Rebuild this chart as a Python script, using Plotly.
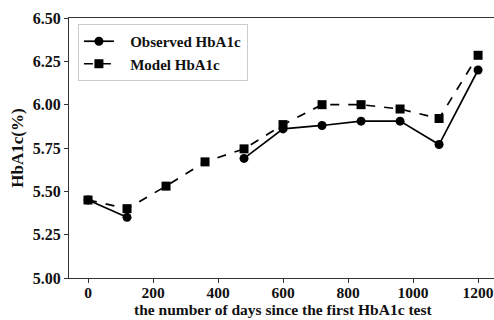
import plotly.graph_objects as go

days = [0, 120, 240, 360, 480, 600, 720, 840, 960, 1080, 1200]
observed = [5.45, 5.35, None, None, 5.69, 5.86, 5.88, 5.905, 5.905, 5.77, 6.20]
model = [5.45, 5.40, 5.53, 5.67, 5.745, 5.885, 6.00, 6.00, 5.975, 5.92, 6.285]

x_ticks = [0, 200, 400, 600, 800, 1000, 1200]
y_ticks = [5.00, 5.25, 5.50, 5.75, 6.00, 6.25, 6.50]

font_family = "Liberation Serif, Times New Roman, serif"
txt = "#111"
nb = "\u00a0"

fig = go.Figure()
fig.add_trace(go.Scatter(
    x=days, y=observed, name=nb * 3 + "Observed HbA1c", mode="lines+markers",
    line=dict(color="black", width=1.7, dash="solid"),
    marker=dict(symbol="circle", size=9, color="black"),
    connectgaps=False,
))
fig.add_trace(go.Scatter(
    x=days, y=model, name=nb * 3 + "Model HbA1c", mode="lines+markers",
    line=dict(color="black", width=1.7, dash="dash"),
    marker=dict(symbol="square", size=9, color="black"),
))

fig.update_layout(
    width=494, height=320,
    margin=dict(l=69, r=0, t=18, b=42, autoexpand=False),
    plot_bgcolor="white", paper_bgcolor="white",
    font=dict(family=font_family, size=16, color=txt, weight="bold"),
    showlegend=True,
    legend=dict(
        x=0.021, y=0.977, xanchor="left", yanchor="top",
        bgcolor="white", bordercolor="#cccccc", borderwidth=1,
        font=dict(family=font_family, size=15, color=txt, weight="bold"),
        tracegroupgap=0,
    ),
    xaxis=dict(
        range=[-58.5, 1249], tickvals=x_ticks, ticktext=[str(v) for v in x_ticks],
        showline=True, linecolor="#333", linewidth=1, mirror=True,
        ticks="outside", ticklen=4, tickcolor="#333",
        showgrid=False, zeroline=False,
        ticklabeloverflow="allow", ticklabelstandoff=-4,
        automargin=False,
        tickfont=dict(family=font_family, size=15.5, color=txt, weight="bold"),
    ),
    yaxis=dict(
        range=[5.0, 6.5], tickvals=y_ticks, ticktext=[f"{v:.2f}" for v in y_ticks],
        showline=True, linecolor="#333", linewidth=1,
        ticks="outside", ticklen=4, tickcolor="#333",
        showgrid=False, zeroline=False,
        title=dict(text="HbA1c(%)", font=dict(family=font_family, size=17, color=txt, weight="bold"), standoff=4),
        tickfont=dict(family=font_family, size=16, color=txt, weight="bold"),
    ),
    annotations=[dict(
        text="the number of days since the first HbA1c test",
        xref="paper", yref="paper", x=(283 - 69) / 425, y=-0.158,
        xanchor="center", yanchor="bottom", showarrow=False, borderpad=0,
        font=dict(family=font_family, size=15.5, color=txt, weight="bold"),
    )],
)

fig.write_html("out.html")
